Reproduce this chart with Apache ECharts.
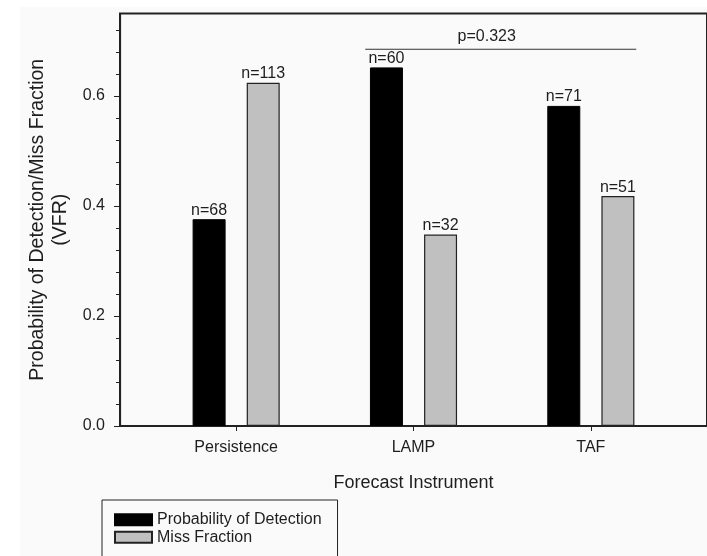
<!DOCTYPE html>
<html>
<head>
<meta charset="utf-8">
<script src="https://cdn.jsdelivr.net/npm/echarts@6/dist/echarts.min.js"></script>
<style>
  html, body { margin: 0; padding: 0; background: #ffffff; }
  #chart { width: 707px; height: 556px; }
</style>
</head>
<body>
<div id="chart"></div>
<script>
// Forecast instruments and their positions on the x scale
const categories = ['Persistence', 'LAMP', 'TAF'];
const categoryPositions = [1, 2, 3];

// Probability of detection and miss fraction (VFR)
const detectionValues = [0.376, 0.652, 0.582];
const missValues = [0.624, 0.348, 0.418];

// Sample sizes shown above each bar
const detectionCounts = [68, 60, 71];
const missCounts = [113, 32, 51];

// Y axis ticks
const yTickValues = [0, 0.2, 0.4, 0.6];
const yMinorTickValues = [0.04, 0.08, 0.12, 0.16, 0.24, 0.28, 0.32, 0.36,
                          0.44, 0.48, 0.52, 0.56, 0.64, 0.68, 0.72];

// Significance bracket between LAMP and TAF
const pValueText = 'p=0.323';
const bracketX = [1.728, 3.256];
const bracketY = 0.685;
const pLabelPoint = [2.413, 0.708];

const FONT = '"Liberation Sans", Arial, Helvetica, sans-serif';
const INK = '#1e1e1e';

const chart = echarts.init(document.getElementById('chart'), null, { renderer: 'canvas' });

const option = {
  animation: false,
  backgroundColor: '#ffffff',
  textStyle: { fontFamily: FONT, color: INK },
  graphic: [{
    type: 'rect',
    z: -10,
    shape: { x: 20, y: 7, width: 700, height: 560 },
    style: { fill: '#fafafa' }
  }],
  grid: {
    left: 120,
    top: 13.5,
    width: 588.5,
    height: 412.5,
    show: true,
    backgroundColor: 'transparent',
    borderColor: '#222',
    borderWidth: 2
  },
  legend: {
    data: ['Probability of Detection', 'Miss Fraction'],
    orient: 'vertical',
    left: 102,
    top: 500,
    height: 40,
    itemWidth: 37,
    itemHeight: 11,
    itemGap: 0,
    padding: [11, 16, 14, 12],
    borderColor: '#222',
    borderWidth: 1,
    borderRadius: 0,
    icon: 'rect',
    selectedMode: false,
    textStyle: { fontFamily: FONT, fontSize: 16, color: INK, lineHeight: 17.5 }
  },
  xAxis: {
    type: 'value',
    min: 0.345,
    max: 3.655,
    name: 'Forecast Instrument',
    nameLocation: 'middle',
    nameGap: 48,
    nameTextStyle: { fontFamily: FONT, fontSize: 18, color: INK },
    axisLine: { show: true, onZero: false, lineStyle: { color: '#222', width: 1.5 } },
    axisTick: { show: true, length: 5, customValues: categoryPositions, lineStyle: { color: '#222' } },
    axisLabel: {
      customValues: categoryPositions,
      formatter: v => categories[Math.round(v) - 1],
      margin: 14,
      fontFamily: FONT,
      fontSize: 16,
      color: INK
    },
    splitLine: { show: false }
  },
  yAxis: [{
    type: 'value',
    min: 0,
    max: 0.75,
    interval: 0.2,
    name: 'Probability of Detection/Miss Fraction\n(VFR)',
    nameLocation: 'middle',
    nameGap: 47,
    nameTextStyle: { fontFamily: FONT, fontSize: 19.5, lineHeight: 23, color: INK },
    axisLine: { show: true, lineStyle: { color: '#222', width: 1.2 } },
    axisTick: { show: true, length: 6, customValues: yTickValues, lineStyle: { color: '#222' } },
    axisLabel: {
      customValues: yTickValues,
      formatter: v => v.toFixed(1),
      margin: 15,
      fontFamily: FONT,
      fontSize: 16,
      color: INK
    },
    splitLine: { show: false }
  }, {
    type: 'value',
    min: 0,
    max: 0.75,
    position: 'left',
    axisLine: { show: false },
    axisTick: { show: true, length: 4, customValues: yMinorTickValues, lineStyle: { color: '#222' } },
    axisLabel: { show: false },
    splitLine: { show: false }
  }],
  series: [{
    name: 'Probability of Detection',
    type: 'bar',
    barWidth: 33,
    barGap: '64%',
    data: categoryPositions.map((x, i) => [x, detectionValues[i]]),
    itemStyle: { color: '#000000', borderColor: '#000000', borderWidth: 1 },
    label: {
      show: true,
      position: 'top',
      distance: 1,
      formatter: p => 'n=' + detectionCounts[p.dataIndex],
      fontFamily: FONT,
      fontSize: 16,
      color: INK
    }
  }, {
    name: 'Miss Fraction',
    type: 'bar',
    barWidth: 33,
    barGap: '64%',
    data: categoryPositions.map((x, i) => [x, missValues[i]]),
    itemStyle: { color: '#c0c0c0', borderColor: '#222222', borderWidth: 1.2 },
    label: {
      show: true,
      position: 'top',
      distance: 1,
      formatter: p => 'n=' + missCounts[p.dataIndex],
      fontFamily: FONT,
      fontSize: 16,
      color: INK
    }
  }, {
    name: 'bracket',
    type: 'line',
    silent: true,
    symbol: 'none',
    data: bracketX.map(x => [x, bracketY]),
    lineStyle: { color: '#333', width: 1 }
  }, {
    name: 'pvalue',
    type: 'scatter',
    silent: true,
    symbolSize: 1,
    itemStyle: { color: 'rgba(0,0,0,0)' },
    data: [pLabelPoint],
    label: {
      show: true,
      position: 'inside',
      formatter: pValueText,
      fontFamily: FONT,
      fontSize: 16,
      color: INK,
      opacity: 1
    }
  }]
};

chart.setOption(option);
</script>
</body>
</html>
